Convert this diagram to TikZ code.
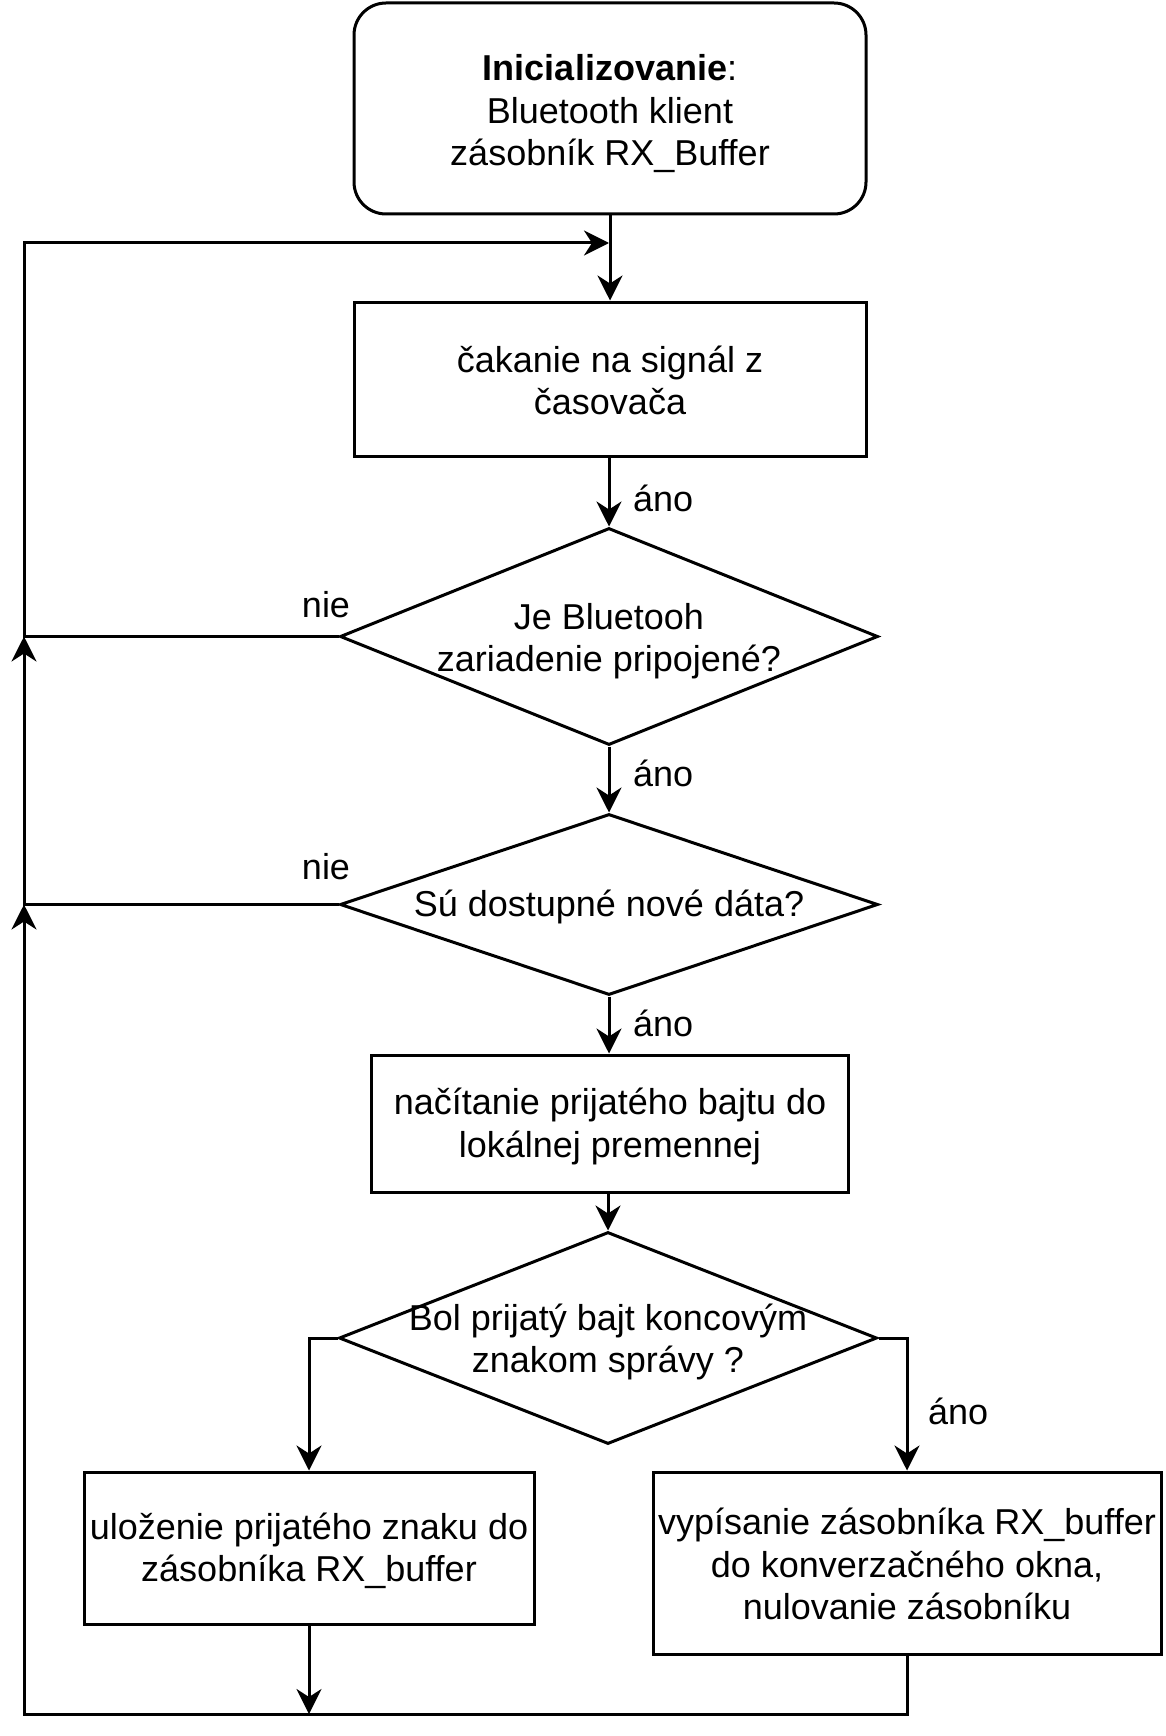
\documentclass[tikz,border=0pt]{standalone}
\usepackage{fontspec}
\setmainfont{Liberation Sans}
\usetikzlibrary{shapes.geometric,arrows.meta}
\begin{document}
\begin{tikzpicture}[x=1pt,y=-1pt,
  every node/.style={font=\fontsize{36}{42.5}\selectfont},
  proc/.style={draw, line width=3pt, rectangle, inner sep=0pt},
  dec/.style={draw, line width=3pt, diamond, inner sep=0pt},
  txt/.style={align=center, inner sep=0pt},
  arr/.style={line width=3pt, -{Stealth[length=25pt,width=25pt,inset=8pt]}},
  lbl/.style={anchor=base west, inner sep=0pt},
  lblc/.style={anchor=base, inner sep=0pt}]
\useasboundingbox (0,0) rectangle (1165,1736);

% shapes
\node[proc, rounded corners=32pt, minimum width=512pt, minimum height=211pt] (init) at (610,108.5) {};
\node[proc, minimum width=512pt, minimum height=154pt] (wait) at (610,379) {};
\node[dec, minimum width=538pt, minimum height=217pt] (d1) at (609,636.5) {};
\node[dec, minimum width=538pt, minimum height=181pt] (d2) at (609,904.5) {};
\node[proc, minimum width=477pt, minimum height=137pt] (read) at (610,1123.5) {};
\node[dec, minimum width=538pt, minimum height=212pt] (d3) at (608,1338) {};
\node[proc, minimum width=450pt, minimum height=152pt] (store) at (309,1548) {};
\node[proc, minimum width=508pt, minimum height=182pt] (print) at (907,1563) {};

% texts
\node[txt] (initt) at (610,114) {\textbf{Inicializovanie}:\\Bluetooth klient\\zásobník RX\_Buffer};
\node[txt] (waitt) at (610,380.5) {čakanie na signál z\\časovača};
\node[txt] (d1t) at (609,641) {Je Bluetooh\\zariadenie pripojené?};
\node[txt] (d2t) at (609,907) {Sú dostupné nové dáta?};
\node[txt] (readt) at (610,1126.5) {načítanie prijatého bajtu do\\lokálnej premennej};
\node[txt] (d3t) at (608,1342) {Bol prijatý bajt koncovým\\znakom správy ?};
\node[txt] (storet) at (309,1551) {uloženie prijatého znaku do\\zásobníka RX\_buffer};
\node[txt] (printt) at (907,1564) {vypísanie zásobníka RX\_buffer\\do konverzačného okna,\\nulovanie zásobníku};

% labels
\node[lbl] (a1) at (633,511) {áno};
\node[lbl] (a2) at (633,786) {áno};
\node[lbl] (a3) at (633,1036) {áno};
\node[lbl] (a4) at (928,1424) {áno};
\node[lblc] (n1) at (326,617) {nie};
\node[lblc] (n2) at (326,879) {nie};

% junction coordinates
\coordinate (tl) at (24,243);
\coordinate (tm) at (609,243);
\coordinate (j1) at (24,636.5);
\coordinate (j2) at (24,904.5);
\coordinate (bl) at (24,1714);
\coordinate (bm) at (309,1714);

% connectors
\draw[arr] (init) -- (wait);
\draw[arr] (wait.south -| d1.north) -- (d1.north);
\draw[arr] (d1) -- (d2);
\draw[arr] (d2.south) -- (d2.south |- read.north);
\draw[arr] (read.south -| d3.north) -- (d3.north);
\draw[arr] (d3.west) -| (store.north);
\draw[arr] (d3.east) -| (print.north);
\draw[arr] (store.south) -- (bm);
\draw[arr] (print.south) |- (bl) -- (j2);
\draw[arr] (d2.west) -- (j2) -- (j1);
\draw[arr] (d1.west) -- (j1) -- (tl) -- (tm);
\end{tikzpicture}
\end{document}
